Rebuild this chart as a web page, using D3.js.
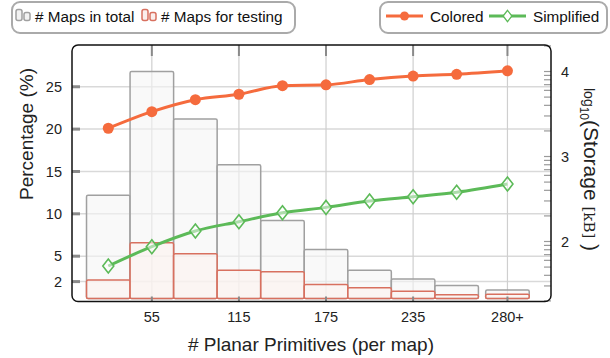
<!DOCTYPE html>
<html><head><meta charset="utf-8">
<script src="https://cdn.jsdelivr.net/npm/d3@7"></script>
<style>
body{margin:0;background:#fff}
svg{display:block;font-family:"Liberation Sans",Arial,sans-serif}
</style>
</head><body>
<svg id="chart" width="610" height="358"></svg>
<script>
// Histogram bins (centre of each 30-wide bin, last one is the 280+ bucket)
const binCenters = [25, 55, 85, 115, 145, 175, 205, 235, 265, 300];
const binWidth = 30;
// Share of maps per bin (%)
const totalPct = [12.2, 26.8, 21.2, 15.8, 9.2, 5.8, 3.35, 2.3, 1.55, 1.0];
const testPct  = [2.2, 6.6, 5.3, 3.35, 3.15, 1.65, 1.27, 0.85, 0.45, 0.5];
// Storage per map (kB), right-hand log axis
const coloredKB    = [2150, 3370, 4660, 5400, 6810, 6970, 8050, 8850, 9270, 10200];
const simplifiedKB = [51.5, 86.9, 133, 171, 218, 252, 299, 336, 379, 474];
// Axis ticks
const xTickValues = [55, 115, 175, 235, 300];
const xTickLabels = ["55", "115", "175", "235", "280+"];
const yTickValues = [2, 5, 10, 15, 20, 25];
const storageMajor = [100, 1000, 10000];

const svg = d3.select("#chart");
const L = 72, R = 551, T = 45, B = 301.5;

const x = d3.scaleLinear().domain([0, 330]).range([L, R]);
const y = d3.scaleLinear().domain([-0.35, 29.93]).range([B, T]);
const yR = d3.scaleLog().domain([Math.pow(10, 1.294), Math.pow(10, 4.312)]).range([B, T]);

const ORANGE = "#f56b3d", GREEN = "#5cba58";
const GRAY_STROKE = "#a0a0a0", RED_STROKE = "#d8705f";

const plot = svg.append("g");

// grid
plot.selectAll("line.hgrid").data(yTickValues).join("line")
  .attr("x1", L).attr("x2", R).attr("y1", d => y(d)).attr("y2", d => y(d))
  .attr("stroke", "#d9d9d9").attr("stroke-width", 1.5);
plot.selectAll("line.vgrid").data(xTickValues).join("line")
  .attr("y1", T).attr("y2", B).attr("x1", d => x(d)).attr("x2", d => x(d))
  .attr("stroke", "#cfcfcf").attr("stroke-width", 1.2);

// histogram bars
const bars = binCenters.map((c, i) => ({c, total: totalPct[i], test: testPct[i]}));
plot.selectAll("rect.total").data(bars).join("rect")
  .attr("x", d => x(d.c - binWidth / 2)).attr("width", d => x(d.c + binWidth / 2) - x(d.c - binWidth / 2))
  .attr("y", d => y(d.total)).attr("height", d => y(0) - y(d.total))
  .attr("rx", 1.5)
  .attr("fill", "#f5f5f5").attr("fill-opacity", 0.6)
  .attr("stroke", GRAY_STROKE).attr("stroke-width", 1.5);
plot.selectAll("rect.test").data(bars).join("rect")
  .attr("x", d => x(d.c - binWidth / 2)).attr("width", d => x(d.c + binWidth / 2) - x(d.c - binWidth / 2))
  .attr("y", d => y(d.test)).attr("height", d => y(0) - y(d.test))
  .attr("rx", 1.5)
  .attr("fill", "#fcf1ef").attr("fill-opacity", 0.6)
  .attr("stroke", RED_STROKE).attr("stroke-width", 1.5);

// ticks on the frame
plot.selectAll("line.ltick").data(yTickValues).join("line")
  .attr("x1", L).attr("x2", L + 8).attr("y1", d => y(d)).attr("y2", d => y(d))
  .attr("stroke", "#8a8a8a").attr("stroke-width", 3);
plot.selectAll("line.ttick").data(xTickValues).join("line")
  .attr("x1", d => x(d)).attr("x2", d => x(d)).attr("y1", T).attr("y2", T + 11)
  .attr("stroke", "#8a8a8a").attr("stroke-width", 2);
plot.selectAll("line.btick").data(xTickValues).join("line")
  .attr("x1", d => x(d)).attr("x2", d => x(d)).attr("y1", B - 5).attr("y2", B)
  .attr("stroke", "#8a8a8a").attr("stroke-width", 2);
plot.selectAll("line.rtick").data(yR.ticks()).join("line")
  .attr("x1", R - 7).attr("x2", R).attr("y1", d => yR(d)).attr("y2", d => yR(d))
  .attr("stroke", "#9a9a9a").attr("stroke-width", 1.2);

// storage lines
const line = d3.line().x(d => x(d[0])).y(d => yR(d[1])).curve(d3.curveMonotoneX);
const colored = binCenters.map((c, i) => [c, coloredKB[i]]);
const simplified = binCenters.map((c, i) => [c, simplifiedKB[i]]);

plot.append("path").datum(colored).attr("d", line)
  .attr("fill", "none").attr("stroke", ORANGE).attr("stroke-width", 3);
plot.selectAll("circle.col").data(colored).join("circle")
  .attr("cx", d => x(d[0])).attr("cy", d => yR(d[1])).attr("r", 5.5).attr("fill", ORANGE);

plot.append("path").datum(simplified).attr("d", line)
  .attr("fill", "none").attr("stroke", GREEN).attr("stroke-width", 3);
const diamond = "M0,-7L5.5,0L0,7L-5.5,0Z";
plot.selectAll("path.simp").data(simplified).join("path")
  .attr("transform", d => `translate(${x(d[0])},${yR(d[1])})`)
  .attr("d", diamond).attr("fill", "#ffffff").attr("fill-opacity", 0.5)
  .attr("stroke", GREEN).attr("stroke-width", 1.6);

// frame
svg.append("rect").attr("x", L).attr("y", T).attr("width", R - L).attr("height", B - T)
  .attr("rx", 6).attr("fill", "none").attr("stroke", "#111").attr("stroke-width", 1.5);

// tick labels
svg.selectAll("text.ylab").data(yTickValues).join("text")
  .attr("x", 62).attr("y", d => y(d)).attr("dy", "0.35em").attr("text-anchor", "end")
  .attr("font-size", 14.5).attr("fill", "#222").text(d => d);
svg.selectAll("text.xlab").data(xTickValues).join("text")
  .attr("x", d => x(d)).attr("y", 322).attr("text-anchor", "middle")
  .attr("font-size", 14.5).attr("fill", "#222").text((d, i) => xTickLabels[i]);
svg.selectAll("text.rlab").data(storageMajor).join("text")
  .attr("x", 561).attr("y", d => yR(d)).attr("dy", "0.35em")
  .attr("font-size", 14.5).attr("fill", "#222").text(d => Math.round(Math.log10(d)));

// axis titles
svg.append("text").attr("transform", "translate(33,134) rotate(-90)")
  .attr("text-anchor", "middle").attr("font-size", 19).attr("fill", "#222")
  .text("Percentage (%)");
svg.append("text").attr("x", 311).attr("y", 351).attr("text-anchor", "middle")
  .attr("font-size", 19).attr("fill", "#222").text("# Planar Primitives (per map)");

const rt = svg.append("text").attr("transform", "translate(584,88) rotate(90)")
  .attr("fill", "#222");
rt.append("tspan").attr("font-size", 14).text("log");
rt.append("tspan").attr("font-size", 12).attr("dy", 4).text("10");
rt.append("tspan").attr("font-size", 21).attr("dy", -4).text("(Storage ");
rt.append("tspan").attr("font-size", 15).attr("font-family", "'DejaVu Serif', serif").text("[kB]");
rt.append("tspan").attr("font-size", 21).text(" )");

// legends
function legendBox(x0, w) {
  svg.append("rect").attr("x", x0).attr("y", 2).attr("width", w).attr("height", 31).attr("rx", 8)
    .attr("fill", "#fff").attr("stroke", "#aaa").attr("stroke-width", 2);
}
legendBox(12, 283);
legendBox(380, 227);

function barIcon(x0, stroke, fill) {
  svg.append("rect").attr("x", x0).attr("y", 9.5).attr("width", 6).attr("height", 11).attr("rx", 2)
    .attr("fill", fill).attr("stroke", stroke).attr("stroke-width", 1.5);
  svg.append("rect").attr("x", x0 + 8).attr("y", 12.5).attr("width", 6).attr("height", 8).attr("rx", 2)
    .attr("fill", fill).attr("stroke", stroke).attr("stroke-width", 1.5);
}
barIcon(16, GRAY_STROKE, "#f2f2f2");
svg.append("text").attr("x", 35).attr("y", 21.5).attr("font-size", 15.3).attr("fill", "#111").text("# Maps in total");
barIcon(142, RED_STROKE, "#fbeeec");
svg.append("text").attr("x", 161).attr("y", 21.5).attr("font-size", 15.3).attr("fill", "#111").text("# Maps for testing");

svg.append("line").attr("x1", 386).attr("x2", 423).attr("y1", 16).attr("y2", 16)
  .attr("stroke", ORANGE).attr("stroke-width", 3);
svg.append("circle").attr("cx", 404.5).attr("cy", 16).attr("r", 4.5).attr("fill", ORANGE);
svg.append("text").attr("x", 430).attr("y", 21.5).attr("font-size", 15.3).attr("fill", "#111").text("Colored");

svg.append("line").attr("x1", 489).attr("x2", 526).attr("y1", 16).attr("y2", 16)
  .attr("stroke", GREEN).attr("stroke-width", 3);
svg.append("path").attr("transform", "translate(507.5,16) scale(0.8)").attr("d", diamond)
  .attr("fill", "#fff").attr("stroke", GREEN).attr("stroke-width", 1.6);
svg.append("text").attr("x", 533).attr("y", 21.5).attr("font-size", 15.3).attr("fill", "#111").text("Simplified");
</script>
</body></html>
